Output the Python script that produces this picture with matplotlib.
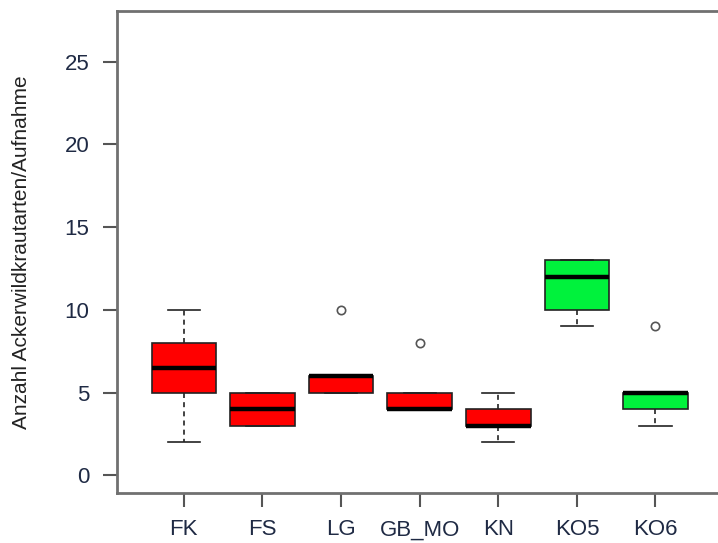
import numpy as np
import matplotlib.pyplot as plt

plt.rcParams['font.family'] = ['Liberation Sans', 'DejaVu Sans']

# Anzahl Ackerwildkrautarten je Aufnahme
sites = ["FK", "FS", "LG", "GB_MO", "KN", "KO5", "KO6"]
whisker_low = [2, 3, 5, 4, 2, 9, 3]
q1 = [5, 3, 5, 4, 3, 10, 4]
median = [6.5, 4, 6, 4, 3, 12, 5]
q3 = [8, 5, 6, 5, 4, 13, 5]
whisker_high = [10, 5, 6, 5, 5, 13, 5]
outliers = [[], [], [10], [8], [], [], [9]]
box_colors = ["#ff0000", "#ff0000", "#ff0000", "#ff0000", "#ff0000", "#00f23c", "#00f23c"]

stats = []
for i in range(len(sites)):
    stats.append({"label": sites[i], "whislo": whisker_low[i], "q1": q1[i], "med": median[i],
                  "q3": q3[i], "whishi": whisker_high[i], "fliers": outliers[i]})

fig = plt.figure(figsize=(7.18, 5.43), dpi=100)
ax = fig.add_axes([0.163, 0.092, 0.843, 0.888])

bp = ax.bxp(stats, positions=np.arange(1, len(sites) + 1), widths=0.82, patch_artist=True,
            boxprops=dict(edgecolor="#222222", linewidth=1.2),
            medianprops=dict(color="black", linewidth=3.2),
            whiskerprops=dict(color="#222222", linewidth=1.2, linestyle=(0, (3, 2.5))),
            capprops=dict(color="#222222", linewidth=1.2),
            capwidths=0.41,
            flierprops=dict(marker="o", markerfacecolor="none", markeredgecolor="#555555",
                            markersize=6, markeredgewidth=1.2))
for patch, c in zip(bp["boxes"], box_colors):
    patch.set_facecolor(c)

ax.set_xlim(0.15, 7.85)
ax.set_ylim(-1.08, 28.08)
ax.set_yticks([0, 5, 10, 15, 20, 25])
ax.set_ylabel("Anzahl Ackerwildkrautarten/Aufnahme", fontsize=15, color="#222222", labelpad=24)

for s in ax.spines.values():
    s.set_color("#707070")
    s.set_linewidth(2)
ax.tick_params(axis="both", length=10, width=1.5, color="#555555", labelsize=16,
               labelcolor="#1f2a44")
ax.tick_params(axis="x", pad=9)
ax.tick_params(axis="y", pad=10)

fig.savefig("out.png", dpi=100)
